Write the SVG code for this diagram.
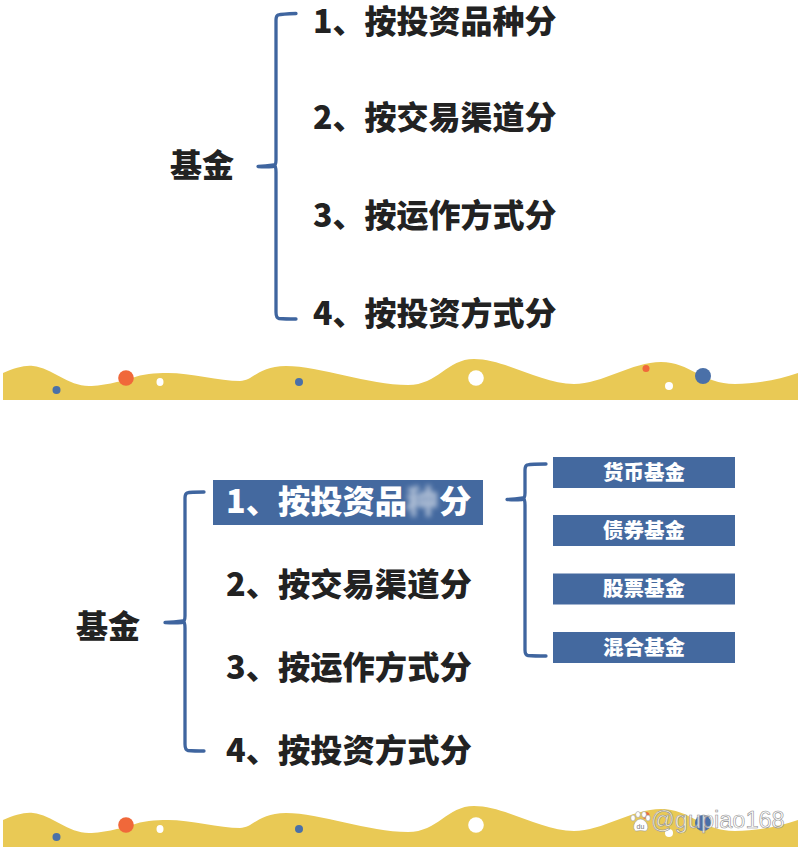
<svg xmlns="http://www.w3.org/2000/svg" xmlns:xlink="http://www.w3.org/1999/xlink" width="800" height="849" viewBox="0 0 800 849">
<style>
text{font-family:"Noto Sans CJK SC","Noto Sans",sans-serif;font-weight:900}
.t{font-size:32px;fill:#222}
.u{font-size:32.3px;fill:#222}
.w{font-size:32.3px;fill:#fff}
.k{font-size:32px;fill:#222}
.s{font-size:20.500px;fill:#fff;text-anchor:middle}
.b{fill:none;stroke:#3f659f;stroke-width:3.300;stroke-linecap:round;stroke-linejoin:round}
.box{fill:#44699f}
.wave{fill:#e9c955}
.bl{fill:#4a70a8}.or{fill:#f0683a}.wh{fill:#fff}
</style>
<defs>
<filter id="blur" x="-30%" y="-30%" width="160%" height="160%"><feGaussianBlur stdDeviation="2.500"/></filter>
<g id="band">
<path class="wave" d="M3 373C14 368 25 365 33 366C52 368 68 386 89 386C104 386 126 380 132 378C142 374 155 373 168 373C190 373 220 381 240 381C253 381 258 366 286 366C320 366 368 385 408 385C438 385 447 359 474 359C505 359 542 384 574 384C602 384 632 362 661 362C690 362 702 384 735 384C755 384 778 380 798 373V400H3Z"/>
<circle class="bl" cx="56.500" cy="390" r="4"/>
<circle class="or" cx="126" cy="378" r="7.800"/>
<ellipse class="wh" cx="160" cy="382" rx="3.500" ry="4"/>
<circle class="bl" cx="299" cy="382" r="4"/>
<circle class="wh" cx="476" cy="378" r="7.800"/>
<circle class="or" cx="646" cy="368.500" r="3.500"/>
<circle class="wh" cx="669" cy="386" r="4"/>
<circle class="bl" cx="703" cy="376" r="8"/>
</g>
</defs>
<rect width="800" height="849" fill="#fff"/>
<g id="decor">
<use xlink:href="#band" href="#band"/>
<use xlink:href="#band" href="#band" y="447"/>
</g>
<g id="connectors">
<path class="b" d="M296 13.500Q282 14 278 15Q276 16 276 20V160Q276 166 273 166.500Q265 167 258 166.500Q265 166.500 274 165Q276 166 276 172V312Q276 318 279 318.500Q285 319 296 319"/>
<path class="b" d="M204 492Q190 492 187 493Q185 494 185 498V616Q185 622 182 622.500Q174 623 165 622.500Q174 622.500 183 621Q185 622 185 628V744Q185 750 188 750.500Q194 751 204 751"/>
<path class="b" d="M546 464Q532 464 527 465Q525 466 525 470V493Q525 499 522 499.500Q514 500 507 499.500Q514 499.500 523 498Q525 499 525 505V650Q525 655 528 655.500Q534 656 546 656"/>
</g>
<g id="root-top"><text class="k" x="170" y="177">基金</text></g>
<g id="top-1"><text class="t" x="313" y="33">1、按投资品种分</text></g>
<g id="top-2"><text class="t" x="313" y="129">2、按交易渠道分</text></g>
<g id="top-3"><text class="t" x="313" y="227">3、按运作方式分</text></g>
<g id="top-4"><text class="t" x="313" y="325">4、按投资方式分</text></g>
<g id="root-bottom"><text class="k" x="76" y="638">基金</text></g>
<g id="bottom-1">
<rect class="box" x="213" y="480" width="270" height="45"/>
<text class="w" x="226" y="513">1、按投资品</text>
<text class="w" x="406" y="513" filter="url(#blur)" opacity=".55">种</text>
<text class="w" x="439" y="513">分</text>
</g>
<g id="bottom-2"><text class="u" x="226" y="596">2、按交易渠道分</text></g>
<g id="bottom-3"><text class="u" x="226" y="679">3、按运作方式分</text></g>
<g id="bottom-4"><text class="u" x="226" y="762">4、按投资方式分</text></g>
<g id="sub-1"><rect class="box" x="553" y="457" width="182" height="31"/><text class="s" x="644" y="479.500">货币基金</text></g>
<g id="sub-2"><rect class="box" x="553" y="515" width="182" height="31"/><text class="s" x="644" y="537.500">债券基金</text></g>
<g id="sub-3"><rect class="box" x="553" y="573.500" width="182" height="31"/><text class="s" x="644" y="596">股票基金</text></g>
<g id="sub-4"><rect class="box" x="553" y="632" width="182" height="31"/><text class="s" x="644" y="654.500">混合基金</text></g>
<g id="watermark">
<g fill="#fff" stroke="#9a9a9a" stroke-width=".6">
<ellipse cx="633" cy="818" rx="2.300" ry="3"/>
<ellipse cx="638" cy="814.500" rx="2.300" ry="3"/>
<ellipse cx="644" cy="814.500" rx="2.300" ry="3"/>
<ellipse cx="648" cy="818" rx="2.300" ry="3"/>
<path d="M640.500 819C636 819 632.500 825 634 829C635.500 832.500 638 830.500 640.500 830.500C643 830.500 646 832.500 647.500 829C649 825 645 819 640.500 819Z"/>
</g>
<text x="640.500" y="829" fill="#777" text-anchor="middle" style="font-family:'Liberation Sans',sans-serif;font-size:7px;font-weight:400">du</text>
<text x="651" y="828" style="font-family:'Liberation Sans',sans-serif;font-size:23.500px;font-weight:400" fill="#fff" fill-opacity=".75" stroke="#8f8f8f" stroke-width=".6">@gupiao168</text>
</g>
</svg>
